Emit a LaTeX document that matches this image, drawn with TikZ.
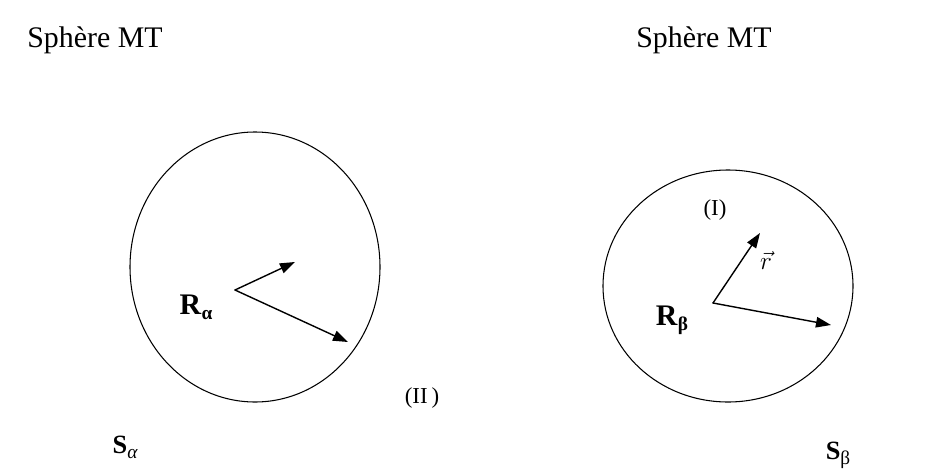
\documentclass[tikz,border=0pt]{standalone}
\usepackage{fontspec}
\setmainfont{Liberation Serif}
\usetikzlibrary{arrows.meta}

% indices des rayons et des sites
\newcommand{\sitelab}[2]{\textbf{#1}\raisebox{-0.35ex}{\fontsize{11}{11}\selectfont\textbf{#2}}}

\begin{document}
\begin{tikzpicture}[line cap=round, line join=round, >={Triangle[length=3mm,width=2.1mm]}]
	
	% Cadre de la figure
	\useasboundingbox (0,0) rectangle (18.5,9.4);
	
	\tikzset{
		titre/.style={font=\fontsize{17}{20}\selectfont},
		region/.style={font=\fontsize{13}{15}\selectfont},
		site/.style={font=\fontsize{17}{20}\selectfont},
		atome/.style={font=\fontsize{15}{17}\selectfont},
		sphere/.style={line width=0.6pt},
		rayon/.style={->, line width=0.8pt}
	}
	
	% Titres
	\node[titre] (titreA) at (1.90,8.60) {Sphère MT};
	\node[titre] (titreB) at (14.08,8.60) {Sphère MT};
	
	% Sphère alpha
	\draw[sphere] (5.10,4.06) ellipse [x radius=2.50, y radius=2.70];
	\coordinate (Oa) at (4.70,3.60);
	\coordinate (Pa) at (5.90,4.16);
	\coordinate (Qa) at (6.96,2.56);
	\draw[rayon] (Oa) -- (Pa);
	\draw[rayon] (Oa) -- (Qa);
	\node[site] (Ra) at (3.92,3.26) {\sitelab{R}{α}};
	
	% Sphère beta
	\draw[sphere] (14.56,3.68) ellipse [x radius=2.50, y radius=2.32];
	\coordinate (Ob) at (14.26,3.34);
	\coordinate (Pb) at (15.20,4.74);
	\coordinate (Qb) at (16.62,2.90);
	\draw[rayon] (Ob) -- (Pb);
	\draw[rayon] (Ob) -- (Qb);
	\node[site] (Rb) at (13.44,3.00) {\sitelab{R}{β}};
	\node[font=\fontsize{15}{17}\selectfont] (vr) at (15.32,4.20) {$\vec{r}$};
	
	% Régions
	\node[region] (regI) at (14.30,5.20) {(I)};
	\node[region] (regII) at (8.44,1.44) {(II\,)};
	
	% Sites
	\node[atome] (Sa) at (2.50,0.46) {\textbf{S}\raisebox{-0.4ex}{\fontsize{11}{11}\selectfont\itshape α}};
	\node[atome] (Sb) at (16.76,0.30) {\textbf{S}\raisebox{-0.4ex}{\fontsize{11}{11}\selectfont β}};
	
\end{tikzpicture}
\end{document}
